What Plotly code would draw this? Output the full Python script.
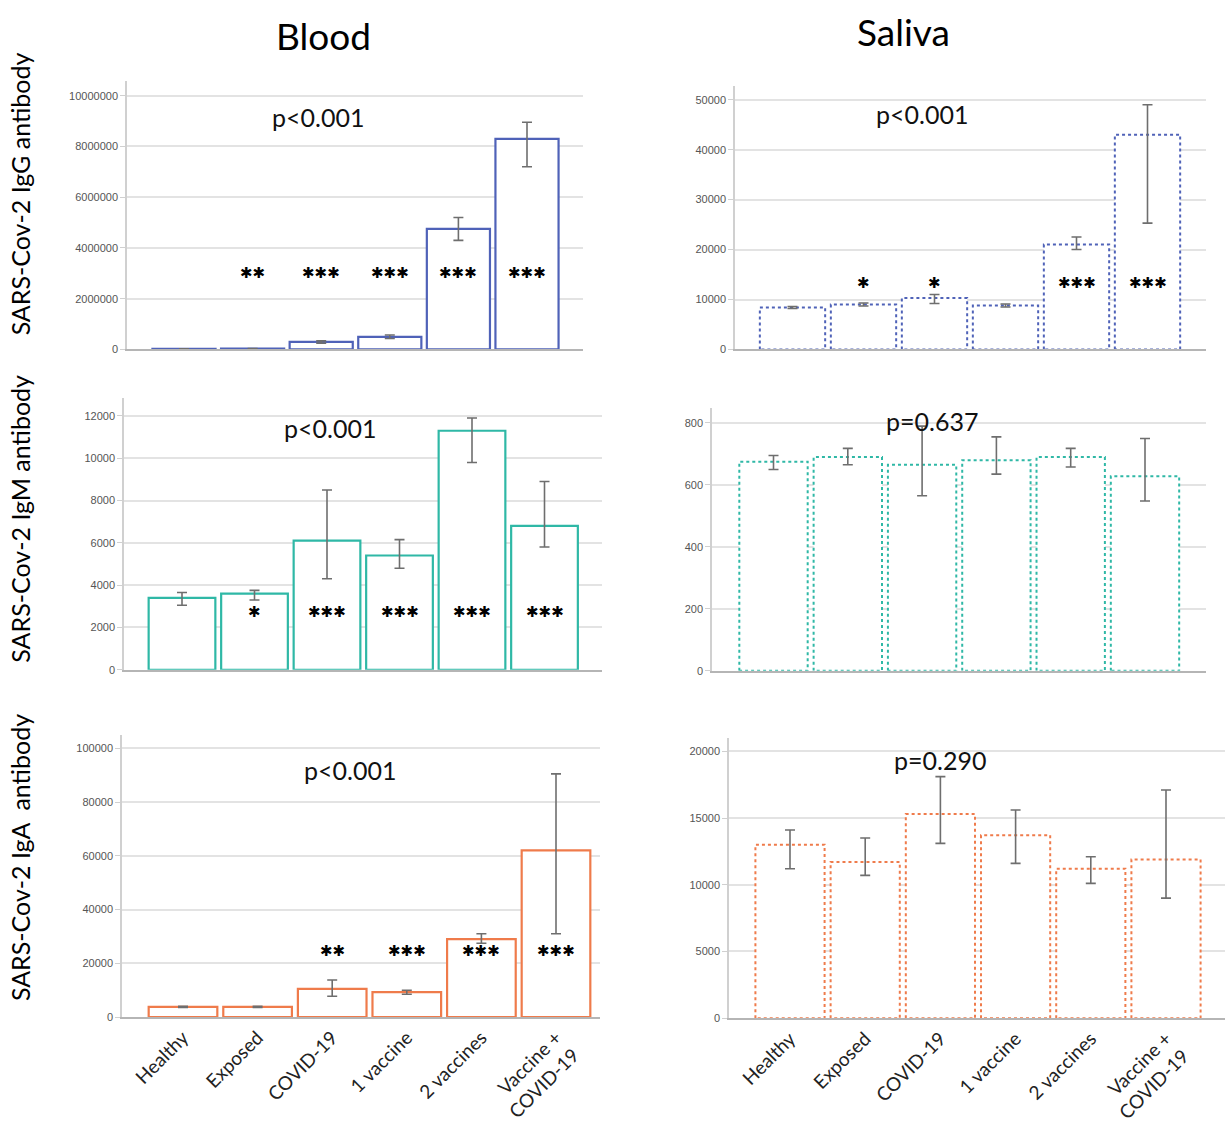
import plotly.graph_objects as go

# reference picture size (all layout pixel positions below are in this frame)
W, H = 1225, 1126
# the page is photographed with a slightly taller layout, so the figure is drawn at this height
FIG_H = 1140

categories = ["Healthy", "Exposed", "COVID-19", "1 vaccine", "2 vaccines", "Vaccine +<br>COVID-19"]

# ---- Blood IgG ----
blood_igg = [20000, 30000, 300000, 500000, 4750000, 8300000]
blood_igg_lo = [10000, 20000, 250000, 430000, 4300000, 7200000]
blood_igg_hi = [30000, 40000, 340000, 570000, 5200000, 8950000]
blood_igg_stars = ["", "**", "***", "***", "***", "***"]
blood_igg_star_y = 3000000
blood_igg_ticks = [0, 2000000, 4000000, 6000000, 8000000, 10000000]

# ---- Saliva IgG ----
saliva_igg = [8400, 9000, 10300, 8800, 21000, 43000]
saliva_igg_lo = [8200, 8700, 9200, 8500, 20000, 25300]
saliva_igg_hi = [8600, 9300, 11000, 9100, 22500, 49000]
saliva_igg_stars = ["", "*", "*", "", "***", "***"]
saliva_igg_star_y = 13400
saliva_igg_ticks = [0, 10000, 20000, 30000, 40000, 50000]

# ---- Blood IgM ----
blood_igm = [3400, 3600, 6100, 5400, 11300, 6800]
blood_igm_lo = [3050, 3300, 4300, 4800, 9800, 5800]
blood_igm_hi = [3650, 3750, 8500, 6150, 11900, 8900]
blood_igm_stars = ["", "*", "***", "***", "***", "***"]
blood_igm_star_y = 2750
blood_igm_ticks = [0, 2000, 4000, 6000, 8000, 10000, 12000]

# ---- Saliva IgM ----
saliva_igm = [675, 690, 665, 680, 690, 628]
saliva_igm_lo = [650, 665, 565, 635, 658, 548]
saliva_igm_hi = [695, 718, 790, 755, 718, 750]
saliva_igm_stars = ["", "", "", "", "", ""]
saliva_igm_star_y = 0
saliva_igm_ticks = [0, 200, 400, 600, 800]

# ---- Blood IgA ----
blood_iga = [3800, 3800, 10500, 9300, 29000, 62000]
blood_iga_lo = [3600, 3600, 7800, 8500, 27500, 31000]
blood_iga_hi = [4000, 4000, 13800, 10000, 31000, 90500]
blood_iga_stars = ["", "", "**", "***", "***", "***"]
blood_iga_star_y = 24500
blood_iga_ticks = [0, 20000, 40000, 60000, 80000, 100000]

# ---- Saliva IgA ----
saliva_iga = [13000, 11700, 15300, 13700, 11200, 11900]
saliva_iga_lo = [11200, 10700, 13100, 11600, 10100, 9000]
saliva_iga_hi = [14100, 13500, 18100, 15600, 12100, 17100]
saliva_iga_stars = ["", "", "", "", "", ""]
saliva_iga_star_y = 0
saliva_iga_ticks = [0, 5000, 10000, 15000, 20000]

BLUE = "#4f62b8"
TEAL = "#2fb8a6"
ORANGE = "#ef7b4b"
ERR = "#6e6e6e"
BAR_W = 0.92
STAR = "\u2731"

# geometry in pixels: ax=(axis x, right end x, first bar centre, spacing); ay=(zero y, top y, top-tick y)
panels = [
    dict(vals=blood_igg, lo=blood_igg_lo, hi=blood_igg_hi, stars=blood_igg_stars, star_y=blood_igg_star_y,
         ticks=blood_igg_ticks, color=BLUE, dotted=False, pval="p<0.001", pxy=(318, 116),
         ax=(127, 583, 184, 68.6), ay=(347, 80, 95), bottom=False),
    dict(vals=saliva_igg, lo=saliva_igg_lo, hi=saliva_igg_hi, stars=saliva_igg_stars, star_y=saliva_igg_star_y,
         ticks=saliva_igg_ticks, color=BLUE, dotted=True, pval="p<0.001", pxy=(922, 113),
         ax=(735, 1206, 792.5, 71.0), ay=(347, 85, 99), bottom=False),
    dict(vals=blood_igm, lo=blood_igm_lo, hi=blood_igm_hi, stars=blood_igm_stars, star_y=blood_igm_star_y,
         ticks=blood_igm_ticks, color=TEAL, dotted=False, pval="p<0.001", pxy=(330, 425),
         ax=(124, 602, 182, 72.5), ay=(665, 395, 413), bottom=False),
    dict(vals=saliva_igm, lo=saliva_igm_lo, hi=saliva_igm_hi, stars=saliva_igm_stars, star_y=saliva_igm_star_y,
         ticks=saliva_igm_ticks, color=TEAL, dotted=True, pval="p=0.637", pxy=(932, 418),
         ax=(712, 1206, 773.5, 74.3), ay=(666, 405, 420), bottom=False),
    dict(vals=blood_iga, lo=blood_iga_lo, hi=blood_iga_hi, stars=blood_iga_stars, star_y=blood_iga_star_y,
         ticks=blood_iga_ticks, color=ORANGE, dotted=False, pval="p<0.001", pxy=(350, 765),
         ax=(122, 600, 183, 74.6), ay=(1010, 730, 743), bottom=True),
    dict(vals=saliva_iga, lo=saliva_iga_lo, hi=saliva_iga_hi, stars=saliva_iga_stars, star_y=saliva_iga_star_y,
         ticks=saliva_iga_ticks, color=ORANGE, dotted=True, pval="p=0.290", pxy=(940, 755),
         ax=(729, 1225, 790, 75.2), ay=(1011, 733, 746), bottom=True),
]

fig = go.Figure()
annotations = []
layout_axes = {}
xs = list(range(len(categories)))

for k, p in enumerate(panels, start=1):
    xa = "x" if k == 1 else f"x{k}"
    ya = "y" if k == 1 else f"y{k}"
    x0p, x1p, c0, s = p["ax"]
    y0p, ytopp, ytickp = p["ay"]
    top_tick = p["ticks"][-1]
    ymax = top_tick * (y0p - ytopp) / (y0p - ytickp)
    err_plus = [h - v for h, v in zip(p["hi"], p["vals"])]
    err_minus = [v - l for v, l in zip(p["vals"], p["lo"])]
    err = dict(type="data", symmetric=False, array=err_plus, arrayminus=err_minus,
               color=ERR, thickness=1.6, width=5)

    if not p["dotted"]:
        fig.add_trace(go.Bar(x=xs, y=p["vals"], width=BAR_W, xaxis=xa, yaxis=ya,
                             marker=dict(color="white", line=dict(color=p["color"], width=2.2)),
                             error_y=err, showlegend=False, hoverinfo="y"))
    else:
        fig.add_trace(go.Bar(x=xs, y=p["vals"], width=BAR_W, xaxis=xa, yaxis=ya,
                             marker=dict(color="white", line=dict(width=0)),
                             showlegend=False, hoverinfo="y"))
        ox, oy = [], []
        for i, v in zip(xs, p["vals"]):
            ox += [i - BAR_W / 2, i - BAR_W / 2, i + BAR_W / 2, i + BAR_W / 2, i - BAR_W / 2, None]
            oy += [0, v, v, 0, 0, None]
        fig.add_trace(go.Scatter(x=ox, y=oy, mode="lines", xaxis=xa, yaxis=ya,
                                 line=dict(color=p["color"], width=2, dash="dot"),
                                 showlegend=False, hoverinfo="skip"))
        fig.add_trace(go.Scatter(x=xs, y=p["vals"], mode="markers", xaxis=xa, yaxis=ya,
                                 marker=dict(size=1, opacity=0), error_y=err,
                                 showlegend=False, hoverinfo="skip"))

    for i, st in zip(xs, p["stars"]):
        if st:
            annotations.append(dict(x=i, y=p["star_y"], xref=xa, yref=ya,
                                    text=st.replace("*", STAR),
                                    showarrow=False, xanchor="center", yanchor="middle",
                                    font=dict(size=15, color="black", family="DejaVu Sans")))

    annotations.append(dict(x=p["pxy"][0] / W, y=1 - p["pxy"][1] / H, xref="paper", yref="paper",
                            text=p["pval"], showarrow=False, xanchor="center", yanchor="middle",
                            font=dict(size=25, color="#111", family="Lato")))

    layout_axes["xaxis" if k == 1 else f"xaxis{k}"] = dict(
        domain=[x0p / W, x1p / W], anchor=ya,
        range=[(x0p - c0) / s, (x1p - c0) / s],
        tickvals=xs, ticktext=categories, showticklabels=p["bottom"], tickangle=-45,
        tickfont=dict(size=19, color="#222", family="Lato"),
        showgrid=False, zeroline=False, showline=True, linecolor="#b5b5b5", linewidth=2,
        ticks="", fixedrange=True)
    layout_axes["yaxis" if k == 1 else f"yaxis{k}"] = dict(
        domain=[1 - y0p / H, 1 - ytopp / H], anchor=xa,
        range=[0, ymax], tickvals=p["ticks"], tickformat="d",
        tickfont=dict(size=11, color="#555", family="Liberation Sans"),
        showgrid=True, gridcolor="#e3e3e3", gridwidth=1.5,
        zeroline=False, showline=True, linecolor="#d0d0d0", linewidth=1.5,
        ticks="outside", ticklen=5, tickcolor="#d0d0d0", fixedrange=True)

# column titles
for text, cx, cy in [("Blood", 323, 35), ("Saliva", 903, 31)]:
    annotations.append(dict(x=cx / W, y=1 - cy / H, xref="paper", yref="paper", text=text,
                            showarrow=False, xanchor="center", yanchor="middle",
                            font=dict(size=37, color="black", family="Lato")))

# row y titles
for text, yc in [("SARS-Cov-2 IgG antibody", 193), ("SARS-Cov-2 IgM antibody", 515),
                 ("SARS-Cov-2 IgA  antibody", 852)]:
    annotations.append(dict(x=20 / W, y=1 - yc / H, xref="paper", yref="paper", text=text,
                            textangle=-90, showarrow=False, xanchor="center", yanchor="middle",
                            font=dict(size=25, color="black", family="Lato")))

fig.update_layout(width=W, height=FIG_H, margin=dict(l=0, r=0, t=0, b=0),
                  paper_bgcolor="white", plot_bgcolor="white",
                  barmode="overlay", annotations=annotations, **layout_axes)

fig.write_html(
    "out.html",
    config={"displayModeBar": False},
    post_script=(
        "document.documentElement.style.margin='0';"
        "document.documentElement.style.overflow='hidden';"
        "document.body.style.margin='0';"
        "document.body.style.overflow='hidden';"
    ),
)
